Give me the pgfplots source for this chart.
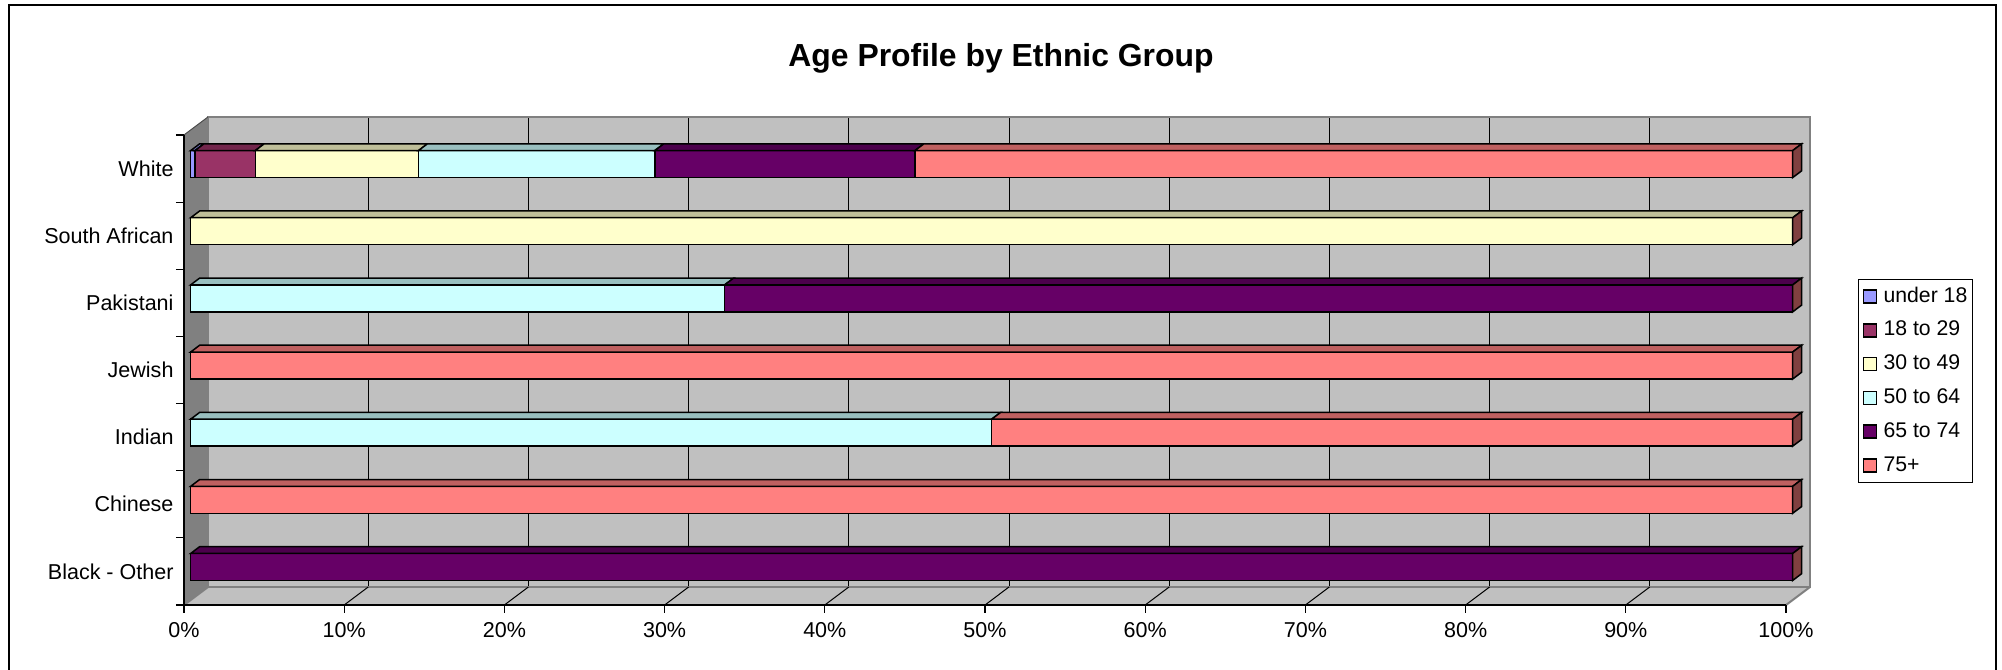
\documentclass[border=0pt]{standalone}
\usepackage{pgfplots}
\pgfplotsset{compat=1.18}
\usepackage{fontspec}
\setmainfont{Liberation Sans}
\definecolor{cU}{HTML}{9999FF}
\definecolor{cA}{HTML}{993366}
\definecolor{cB}{HTML}{FFFFCC}
\definecolor{cC}{HTML}{CCFFFF}
\definecolor{cD}{HTML}{660066}
\definecolor{cE}{HTML}{FF8080}
\definecolor{wallc}{HTML}{C0C0C0}
\definecolor{sidewall}{HTML}{808080}
\definecolor{sidefc}{HTML}{804040}
\newcommand\topface[4]{%
 \pgfmathsetmacro\ya{#3+0.201}%
 \pgfmathsetmacro\yb{#3+0.302}%
 \pgfmathsetmacro\xa{#1+0.56}%
 \pgfmathsetmacro\xb{#2+0.56}%
 \edef\temp{\noexpand\addplot[forget plot,fill=#4!75!black,draw=black,line width=1.5bp] coordinates {(#1,\ya) (#2,\ya) (\xb,\yb) (\xa,\yb)} --cycle;}\temp}
\newcommand\sideface[1]{%
 \pgfmathsetmacro\ya{#1-0.201}%
 \pgfmathsetmacro\yb{#1+0.201}%
 \pgfmathsetmacro\yc{#1+0.302}%
 \pgfmathsetmacro\yd{#1-0.100}%
 \edef\temp{\noexpand\addplot[forget plot,fill=sidefc,draw=black,line width=1.5bp] coordinates {(100,\ya) (100,\yb) (100.56,\yc) (100.56,\yd)} --cycle;}\temp}
\begin{document}
\begin{tikzpicture}
\useasboundingbox (0bp,0bp) rectangle (2002bp,670bp);
\fill[white] (0bp,0bp) rectangle (2002bp,670bp);
% side wall and floor
\fill[sidewall] (184bp,535bp) -- (208bp,553bp) -- (208bp,83bp) -- (184bp,65bp) -- cycle;
\fill[wallc] (184bp,65bp) -- (1786bp,65bp) -- (1810bp,83bp) -- (208bp,83bp) -- cycle;
% back wall
\begin{axis}[at={(208bp,83bp)},anchor=south west,scale only axis,width=1602bp,height=470bp,
  xmin=0,xmax=100,ymin=0,ymax=1,
  axis background/.style={fill=wallc},
  axis line style={draw=sidewall,line width=2bp},
  xtick={10,20,...,90},ytick=\empty,xticklabels={},
  major tick length=0pt,
  xmajorgrids, grid style={black,line width=1bp}]
\addplot[draw=none] coordinates {(0,0)};
\end{axis}
\draw[sidewall,line width=2bp] (208bp,83bp) -- (184bp,65bp);
\draw[sidewall,line width=2bp] (1786bp,65bp) -- (1810bp,83bp);
\draw[sidewall!60!black,line width=1bp] (208bp,553bp) -- (184bp,535bp);
\foreach \k in {1,...,9}{\draw[black,line width=1bp] ({(184+160.2*\k)*1bp},65bp) -- ({(208+160.2*\k)*1bp},83bp);}
% front frame axis with ticks
\begin{axis}[at={(184bp,65bp)},anchor=south west,scale only axis,width=1602bp,height=470bp,
  xmin=0,xmax=100,ymin=-0.5,ymax=6.5,
  axis x line*=bottom, axis y line*=left,
  axis line style={line width=1.5bp,black,-},
  xtick={0,10,...,100},
  xticklabels={0\%,10\%,20\%,30\%,40\%,50\%,60\%,70\%,80\%,90\%,100\%},
  ytick={0,...,6},
  yticklabels={Black - Other,Chinese,Indian,Jewish,Pakistani,South African,White},
  minor ytick={-0.5,0.5,...,6.5},
  tick align=outside, major tick length=8bp, minor tick length=8bp,
  major x tick style={line width=1.2bp,black},
  major y tick style={draw=none},
  minor y tick style={line width=1.2bp,black},
  ticklabel style={font=\fontsize{21.6}{25}\selectfont},
  yticklabel style={xshift=1bp},
  xticklabel style={yshift=-6bp}]
\addplot[draw=none] coordinates {(0,0)};
\end{axis}
% bars, front faces
\begin{axis}[at={(190.7bp,69.5bp)},anchor=south west,scale only axis,width=1602bp,height=470bp,
  xmin=0,xmax=100,ymin=-0.5,ymax=6.5,
  axis lines=none, clip=false,
  xbar stacked, bar width=27bp,
  every axis plot/.append style={draw=black,line width=1.5bp},
  legend style={at={(1.0408,0.684)},anchor=north west,draw=black,line width=1bp,
    font=\fontsize{21.3}{25}\selectfont,inner xsep=4bp,inner ysep=6bp,row sep=11.8bp,
    nodes={inner sep=1.5bp,text height=15bp,text depth=4bp},
    /tikz/every odd column/.append style={column sep=5bp}},
  legend cell align=left,
  legend image code/.code={\draw[#1,draw=black,line width=1.5bp] (0bp,-6.5bp) rectangle (13bp,6.5bp);}]
\addplot[fill=cU] coordinates {(0,0) (0,1) (0,2) (0,3) (0,4) (0,5) (0.27,6)};
\addplot[fill=cA] coordinates {(0,0) (0,1) (0,2) (0,3) (0,4) (0,5) (3.76,6)};
\addplot[fill=cB] coordinates {(0,0) (0,1) (0,2) (0,3) (0,4) (100,5) (10.19,6)};
\addplot[fill=cC] coordinates {(0,0) (0,1) (50,2) (0,3) (33.33,4) (0,5) (14.75,6)};
\addplot[fill=cD] coordinates {(100,0) (0,1) (0,2) (0,3) (66.67,4) (0,5) (16.24,6)};
\addplot[fill=cE] coordinates {(0,0) (100,1) (50,2) (100,3) (0,4) (0,5) (54.79,6)};
\legend{under 18,18 to 29,30 to 49,50 to 64,65 to 74,75+}
\end{axis}
% bars, top and side faces
\begin{axis}[at={(190.7bp,69.5bp)},anchor=south west,scale only axis,width=1602bp,height=470bp,
  xmin=0,xmax=100,ymin=-0.5,ymax=6.5,
  axis lines=none, clip=false]
\topface{0}{0.27}{6}{cU}
\topface{0.27}{4.03}{6}{cA}
\topface{4.03}{14.22}{6}{cB}
\topface{14.22}{28.97}{6}{cC}
\topface{28.97}{45.21}{6}{cD}
\topface{45.21}{100}{6}{cE}
\topface{0}{100}{5}{cB}
\topface{0}{33.33}{4}{cC}
\topface{33.33}{100}{4}{cD}
\topface{0}{100}{3}{cE}
\topface{0}{50}{2}{cC}
\topface{50}{100}{2}{cE}
\topface{0}{100}{1}{cE}
\topface{0}{100}{0}{cD}
\sideface{0}\sideface{1}\sideface{2}\sideface{3}\sideface{4}\sideface{5}\sideface{6}
\end{axis}
\node[font=\bfseries\fontsize{32}{36}\selectfont] at (1001bp,612bp) {Age Profile by Ethnic Group};
\draw[black,line width=1.5bp] (9bp,-5bp) rectangle (1996bp,665bp);
\end{tikzpicture}
\end{document}
